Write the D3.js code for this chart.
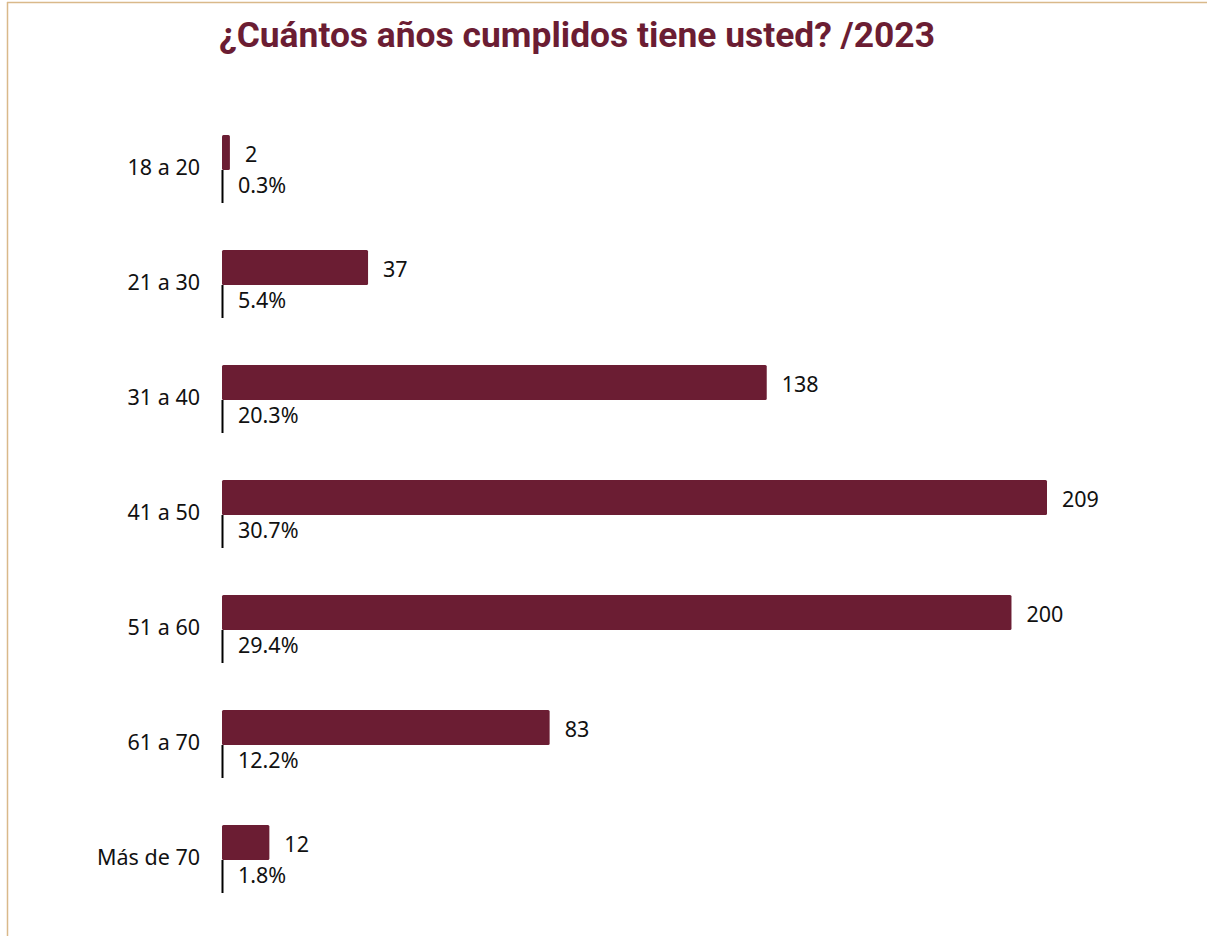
<!DOCTYPE html>
<html>
<head>
<meta charset="utf-8">
<script src="https://cdn.jsdelivr.net/npm/d3@7"></script>
<style>
  html, body { margin: 0; padding: 0; background: #ffffff; }
  svg { display: block; }
</style>
</head>
<body>
<svg id="chart" width="1207" height="936"></svg>
<script>
// Age groups of respondents, 2023
const categories = ["18 a 20", "21 a 30", "31 a 40", "41 a 50", "51 a 60", "61 a 70", "Más de 70"];
const counts = [2, 37, 138, 209, 200, 83, 12];
const percents = ["0.3%", "5.4%", "20.3%", "30.7%", "29.4%", "12.2%", "1.8%"];
const title = "¿Cuántos años cumplidos tiene usted? /2023";

const W = 1207, H = 936;
const barColor = "#6b1d33";
const frameColor = "#d9b98a";
const textFont = "'Noto Sans', 'Open Sans', sans-serif";

const svg = d3.select("#chart");

// frame lines (top and left)
svg.append("line").attr("x1", 7).attr("x2", W).attr("y1", 2.5).attr("y2", 2.5)
  .attr("stroke", frameColor).attr("stroke-width", 1.5);
svg.append("line").attr("x1", 7.5).attr("x2", 7.5).attr("y1", 2).attr("y2", H)
  .attr("stroke", frameColor).attr("stroke-width", 1.5);

// title
svg.append("text")
  .attr("x", 219).attr("y", 47)
  .attr("font-family", "Roboto, 'Noto Sans', sans-serif")
  .attr("font-weight", 700)
  .attr("font-size", 35.4)
  .attr("fill", barColor)
  .text(title);

const data = categories.map((c, i) => ({ cat: c, n: counts[i], pct: percents[i] }));

const x = d3.scaleLinear().domain([0, d3.max(counts)]).range([222, 1047]);
const y = d3.scaleBand().domain(categories).range([135, 135 + 115 * categories.length]).paddingInner(0).paddingOuter(0);
const barH = 35;

const g = svg.append("g");

const row = g.selectAll("g.row").data(data).join("g").attr("class", "row")
  .attr("transform", d => `translate(0,${y(d.cat)})`);

row.append("rect")
  .attr("x", x(0))
  .attr("y", 0)
  .attr("width", d => x(d.n) - x(0))
  .attr("height", barH)
  .attr("rx", 1.5)
  .attr("fill", barColor);

// small axis stub below each bar
row.append("line")
  .attr("x1", x(0) + 0.5).attr("x2", x(0) + 0.5)
  .attr("y1", barH).attr("y2", barH + 33)
  .attr("stroke", "#000").attr("stroke-width", 2);

row.append("text")
  .attr("x", d => x(d.n) + 15)
  .attr("y", 27)
  .attr("font-family", textFont)
  .attr("font-size", 21.5)
  .attr("fill", "#111")
  .text(d => d.n);

row.append("text")
  .attr("x", x(0) + 16)
  .attr("y", 58)
  .attr("font-family", textFont)
  .attr("font-size", 21.5)
  .attr("fill", "#111")
  .text(d => d.pct);

row.append("text")
  .attr("x", 200)
  .attr("y", 40)
  .attr("text-anchor", "end")
  .attr("font-family", textFont)
  .attr("font-size", 21.5)
  .attr("fill", "#111")
  .text(d => d.cat);
</script>
</body>
</html>
